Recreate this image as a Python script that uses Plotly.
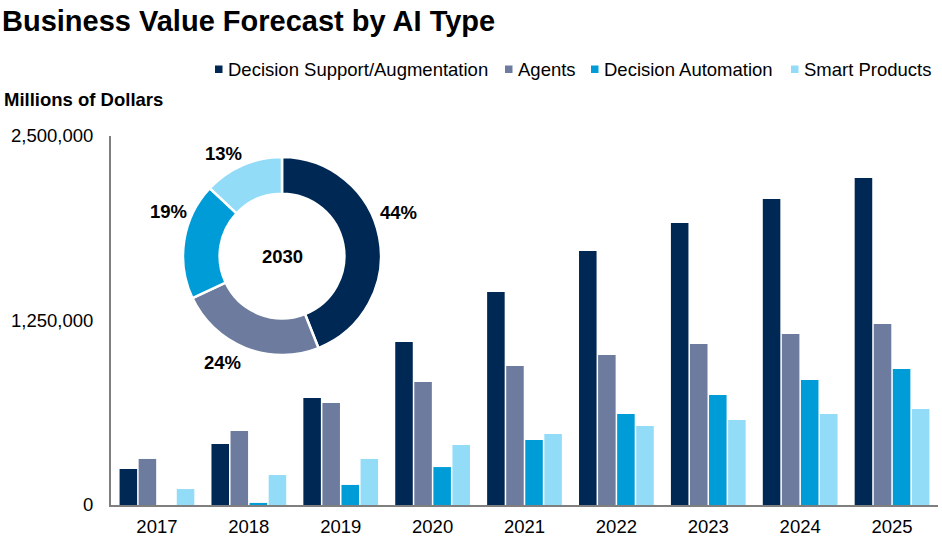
import plotly.graph_objects as go

# dados
anos = ['2017', '2018', '2019', '2020', '2021', '2022', '2023', '2024', '2025']
decision_support = [244000, 413000, 725000, 1104000, 1443000, 1721000, 1911000, 2073000, 2215000]
agents = [312000, 501000, 691000, 833000, 942000, 1016000, 1091000, 1159000, 1226000]
decision_automation = [0, 14000, 136000, 257000, 440000, 617000, 745000, 847000, 921000]
smart_products = [108000, 203000, 312000, 406000, 481000, 535000, 576000, 617000, 650000]

tipos = ['Decision Support/Augmentation', 'Agents', 'Decision Automation', 'Smart Products']
cores = ['#002855', '#6D7C9E', '#009CD8', '#92DCF8']
shares_2030 = [44, 24, 19, 13]

y_ticks = [0, 1250000, 2500000]
y_tick_labels = ['0', '1,250,000', '2,500,000']

fonte = 'Liberation Sans, Arial, sans-serif'

# area do grafico em pixels
L, T, W, H = 111, 136, 827, 369
LARG, ALT = 942, 543


def fx(px_):
    return (px_ - L) / W


def fy(py_):
    return (T + H - py_) / H


def texto(x, y, txt, xanchor='center'):
    return dict(x=fx(x), y=fy(y), xref='paper', yref='paper', xanchor=xanchor, yanchor='middle',
                text=txt, showarrow=False, font=dict(size=18.5, color='black', family=fonte))


fig = go.Figure()
for nome, valores, cor in zip(tipos, [decision_support, agents, decision_automation, smart_products], cores):
    fig.add_trace(go.Bar(x=anos, y=valores, name=nome, marker_color=cor, marker_line_width=0,
                         showlegend=False))

# rosca de 2030
fig.add_trace(go.Pie(
    labels=tipos, values=shares_2030, sort=False, direction='clockwise', rotation=0,
    hole=0.63, marker=dict(colors=cores, line=dict(color='white', width=2.5)),
    textinfo='none', showlegend=False, hoverinfo='label+percent',
    domain=dict(x=[fx(183), fx(381)], y=[fy(355), fy(157)])
))

anotacoes = []
pos_rotulos = [(398, 212), (222, 362), (168, 211), (223, 153)]
for s, (px_, py_) in zip(shares_2030, pos_rotulos):
    anotacoes.append(texto(px_, py_, f'<b>{s}%</b>'))
anotacoes.append(texto(282, 256, '<b>2030</b>'))
anotacoes.append(texto(2, 100, '<b>Millions of Dollars</b>', xanchor='left'))

# legenda feita a mao (quadradinhos pequenos como no original)
legenda_x = [215, 505, 591, 791]
formas = []
for nome, cor, x0 in zip(tipos, cores, legenda_x):
    formas.append(dict(type='rect', xref='paper', yref='paper',
                       x0=fx(x0), x1=fx(x0 + 7.5), y0=fy(73), y1=fy(65.5),
                       fillcolor=cor, line_width=0))
    anotacoes.append(texto(x0 + 11, 69, nome, xanchor='left'))

fig.update_layout(
    width=LARG, height=ALT,
    margin=dict(l=L, r=LARG - L - W, t=T, b=ALT - T - H),
    paper_bgcolor='white', plot_bgcolor='white',
    font=dict(family=fonte, size=18.5, color='black'),
    title=dict(text='<b>Business Value Forecast by AI Type</b>', x=2 / LARG, xanchor='left',
               y=1 - 21 / ALT, yanchor='middle', font=dict(size=29, color='black', family=fonte)),
    barmode='group', bargap=0.17, bargroupgap=0.08,
    showlegend=False,
    annotations=anotacoes, shapes=formas,
    xaxis=dict(showline=True, linecolor='#7F7F7F', linewidth=2, ticks='', showgrid=False,
               tickfont=dict(size=18.5), ticklabelstandoff=4),
    yaxis=dict(range=[0, 2500000], tickvals=y_ticks, ticktext=y_tick_labels, showgrid=False,
               showline=True, linecolor='#7F7F7F', linewidth=2, ticks='', zeroline=False,
               tickfont=dict(size=18.5), ticklabelstandoff=12),
)

fig.write_html('out.html', config={'displayModeBar': False},
               post_script="document.body.style.margin='0px';")
